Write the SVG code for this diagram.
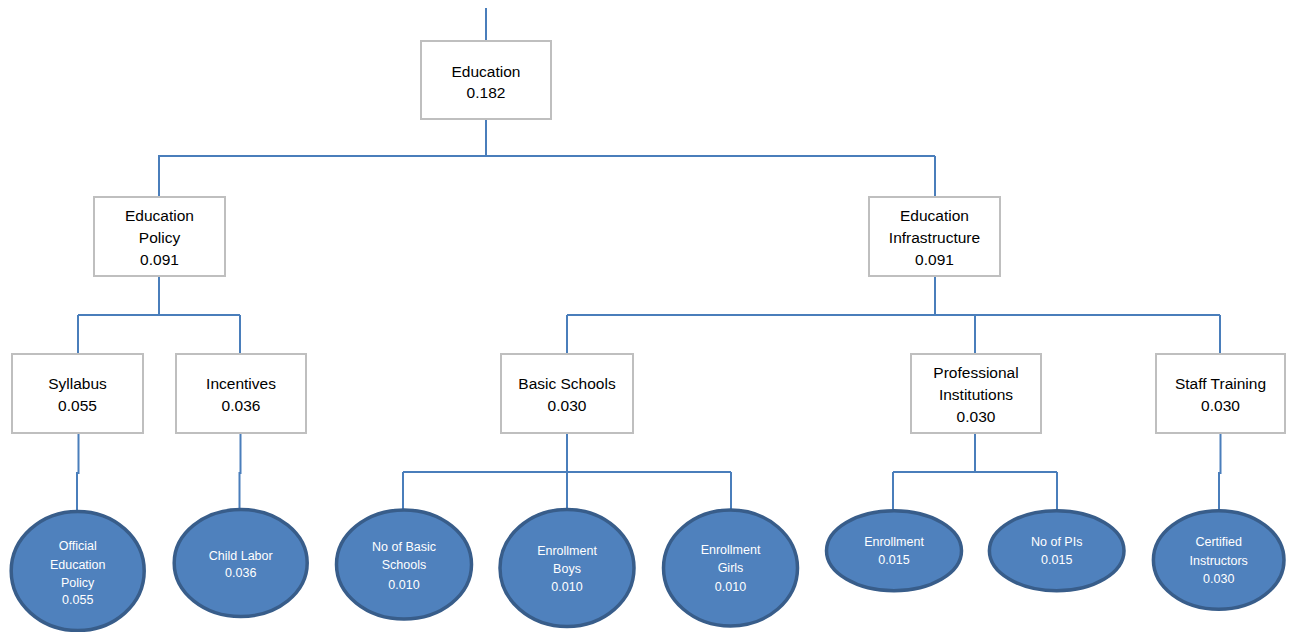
<svg xmlns="http://www.w3.org/2000/svg" width="1291" height="632" viewBox="0 0 1291 632">
<style>
.box{fill:#fff;stroke:#bfbfbf;stroke-width:2}
.bt{font-family:"Liberation Sans",Arial,sans-serif;font-size:15.5px;fill:#000;text-anchor:middle}
.ell{fill:#4f81bd;stroke:#385d8a;stroke-width:3.5}
.et{font-family:"Liberation Sans",Arial,sans-serif;font-size:12.5px;fill:#fff;text-anchor:middle}
.c{fill:none;stroke:#4a7ebb;stroke-width:2}
</style>
<rect width="1291" height="632" fill="#fff"/>
<g id="connectors" class="c">
<path d="M486 8V41M486 119V156M158 156H935"/>
<path d="M159 156V197M159 276V315M78 315H240M78 315V354M240 315V354"/>
<path d="M935 156V197M935 276V315M567 315H1220M567 315V354M975 315V354M1220 315V354"/>
<path d="M78.5 433V473H77V511M240.5 433V473H239.5V510"/>
<path d="M567 433V472M403 472H731M403 472V511M567 472V510M731 472V511"/>
<path d="M975 433V472M893 472H1057M893 472V511M1057 472V511"/>
<path d="M1220.5 433V473H1219V511"/>
</g>
<g id="education"><rect class="box" x="421" y="41" width="130" height="78"/><text class="bt" x="486" y="77">Education</text><text class="bt" x="486" y="98">0.182</text></g>
<g id="education-policy"><rect class="box" x="94" y="197" width="131" height="79"/><text class="bt" x="159.5" y="221">Education</text><text class="bt" x="159.5" y="243">Policy</text><text class="bt" x="159.5" y="265">0.091</text></g>
<g id="education-infrastructure"><rect class="box" x="869" y="197" width="131" height="79"/><text class="bt" x="934.5" y="221">Education</text><text class="bt" x="934.5" y="243">Infrastructure</text><text class="bt" x="934.5" y="265">0.091</text></g>
<g id="syllabus"><rect class="box" x="12" y="354" width="131" height="79"/><text class="bt" x="77.5" y="389">Syllabus</text><text class="bt" x="77.5" y="411">0.055</text></g>
<g id="incentives"><rect class="box" x="176" y="354" width="130" height="79"/><text class="bt" x="241" y="389">Incentives</text><text class="bt" x="241" y="411">0.036</text></g>
<g id="basic-schools"><rect class="box" x="501" y="354" width="132" height="79"/><text class="bt" x="567" y="389">Basic Schools</text><text class="bt" x="567" y="411">0.030</text></g>
<g id="professional-institutions"><rect class="box" x="911" y="354" width="130" height="79"/><text class="bt" x="976" y="378">Professional</text><text class="bt" x="976" y="400">Institutions</text><text class="bt" x="976" y="422">0.030</text></g>
<g id="staff-training"><rect class="box" x="1156" y="354" width="129" height="79"/><text class="bt" x="1220.5" y="389">Staff Training</text><text class="bt" x="1220.5" y="411">0.030</text></g>
<g id="official-education-policy"><ellipse class="ell" cx="77.7" cy="571" rx="66.5" ry="59.5"/><text class="et" x="77.7" y="550">Official</text><text class="et" x="77.7" y="569">Education</text><text class="et" x="77.7" y="587">Policy</text><text class="et" x="77.7" y="604">0.055</text></g>
<g id="child-labor"><ellipse class="ell" cx="240.7" cy="563" rx="66.5" ry="53.5"/><text class="et" x="240.7" y="559.5">Child Labor</text><text class="et" x="240.7" y="577">0.036</text></g>
<g id="no-of-basic-schools"><ellipse class="ell" cx="404" cy="564.5" rx="67.5" ry="54.5"/><text class="et" x="404" y="551">No of Basic</text><text class="et" x="404" y="569">Schools</text><text class="et" x="404" y="588.5">0.010</text></g>
<g id="enrollment-boys"><ellipse class="ell" cx="567" cy="568" rx="67" ry="58.5"/><text class="et" x="567" y="554.5">Enrollment</text><text class="et" x="567" y="572.5">Boys</text><text class="et" x="567" y="590.5">0.010</text></g>
<g id="enrollment-girls"><ellipse class="ell" cx="730.5" cy="568" rx="67" ry="58"/><text class="et" x="730.5" y="554">Enrollment</text><text class="et" x="730.5" y="572">Girls</text><text class="et" x="730.5" y="590.5">0.010</text></g>
<g id="enrollment"><ellipse class="ell" cx="894" cy="550.7" rx="67.5" ry="40"/><text class="et" x="894" y="546">Enrollment</text><text class="et" x="894" y="564">0.015</text></g>
<g id="no-of-pis"><ellipse class="ell" cx="1056.7" cy="550.7" rx="67.3" ry="40"/><text class="et" x="1056.7" y="546">No of PIs</text><text class="et" x="1056.7" y="564">0.015</text></g>
<g id="certified-instructors"><ellipse class="ell" cx="1218.7" cy="560" rx="65.3" ry="49.3"/><text class="et" x="1218.7" y="546">Certified</text><text class="et" x="1218.7" y="565">Instructors</text><text class="et" x="1218.7" y="583">0.030</text></g>
</svg>
